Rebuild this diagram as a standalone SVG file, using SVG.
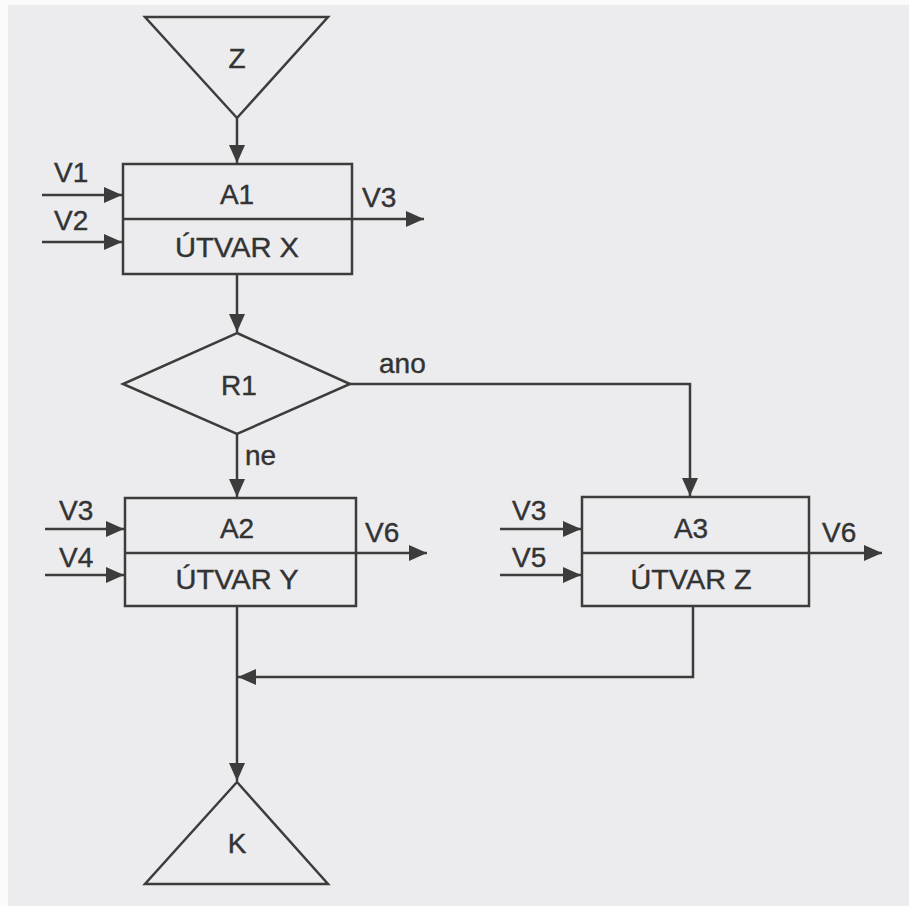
<svg xmlns="http://www.w3.org/2000/svg" width="909" height="906" viewBox="0 0 909 906">
<defs>
<style>
.ln{stroke:#3c3c3c;stroke-width:2.5;fill:none}
.sh{stroke:#3c3c3c;stroke-width:2.5;fill:none}
.t{font-family:"Liberation Sans",Arial,sans-serif;font-size:28px;fill:#333;stroke:#333;stroke-width:0.4;text-anchor:middle}
.tl{font-family:"Liberation Sans",Arial,sans-serif;font-size:28px;fill:#333;stroke:#333;stroke-width:0.4;text-anchor:start}
</style>
<marker id="arr" viewBox="0 0 18 16" refX="18" refY="8" markerWidth="18" markerHeight="16" markerUnits="userSpaceOnUse" orient="auto">
<path d="M0,0 L18,8 L0,16 z" fill="#3c3c3c"/>
</marker>
</defs>
<rect x="0" y="0" width="909" height="906" fill="#fbfbfb"/>
<rect x="8" y="5" width="901" height="901" fill="#ececee"/>

<g id="Z">
<polygon class="sh" points="145,17 328,17 237,118"/>
<text class="t" x="237" y="68">Z</text>
</g>

<g id="A1">
<rect class="sh" x="123" y="164" width="229" height="110"/>
<text class="t" x="237" y="204">A1</text>
<text class="t" x="237" y="257" textLength="124" lengthAdjust="spacingAndGlyphs">ÚTVAR X</text>
</g>

<g id="R1">
<polygon class="sh" points="237,333 350,384 237,434 123,384"/>
<text class="t" x="239" y="395">R1</text>
</g>

<g id="A2">
<rect class="sh" x="125" y="498" width="231" height="108"/>
<text class="t" x="237" y="538">A2</text>
<text class="t" x="237" y="589" textLength="123" lengthAdjust="spacingAndGlyphs">ÚTVAR Y</text>
</g>

<g id="A3">
<rect class="sh" x="582" y="497" width="227" height="109"/>
<text class="t" x="691" y="538">A3</text>
<text class="t" x="691" y="589" textLength="121" lengthAdjust="spacingAndGlyphs">ÚTVAR Z</text>
</g>

<g id="K">
<polygon class="sh" points="237,782 328,884 145,884"/>
<text class="t" x="237" y="853">K</text>
</g>

<g id="connectors">
<line class="ln" x1="237" y1="118" x2="237" y2="163" marker-end="url(#arr)"/>
<line class="ln" x1="42" y1="195" x2="122" y2="195" marker-end="url(#arr)"/>
<line class="ln" x1="42" y1="242" x2="122" y2="242" marker-end="url(#arr)"/>
<line class="ln" x1="123" y1="219" x2="424" y2="219" marker-end="url(#arr)"/>
<line class="ln" x1="237" y1="274" x2="237" y2="332" marker-end="url(#arr)"/>
<polyline class="ln" points="350,384 690,384 690,496" marker-end="url(#arr)"/>
<line class="ln" x1="237" y1="434" x2="237" y2="497" marker-end="url(#arr)"/>
<line class="ln" x1="45" y1="529" x2="124" y2="529" marker-end="url(#arr)"/>
<line class="ln" x1="45" y1="575" x2="124" y2="575" marker-end="url(#arr)"/>
<line class="ln" x1="125" y1="553" x2="427" y2="553" marker-end="url(#arr)"/>
<line class="ln" x1="500" y1="529" x2="581" y2="529" marker-end="url(#arr)"/>
<line class="ln" x1="500" y1="575" x2="581" y2="575" marker-end="url(#arr)"/>
<line class="ln" x1="582" y1="553" x2="882" y2="553" marker-end="url(#arr)"/>
<polyline class="ln" points="693,606 693,677 238,677" marker-end="url(#arr)"/>
<line class="ln" x1="237" y1="606" x2="237" y2="781" marker-end="url(#arr)"/>
<text class="tl" x="54" y="182">V1</text>
<text class="tl" x="54" y="230">V2</text>
<text class="tl" x="362" y="207">V3</text>
<text class="tl" x="379" y="373">ano</text>
<text class="tl" x="245" y="465">ne</text>
<text class="tl" x="59" y="520">V3</text>
<text class="tl" x="59" y="567">V4</text>
<text class="tl" x="365" y="542">V6</text>
<text class="tl" x="512" y="520">V3</text>
<text class="tl" x="512" y="567">V5</text>
<text class="tl" x="822" y="542">V6</text>
</g>
</svg>
